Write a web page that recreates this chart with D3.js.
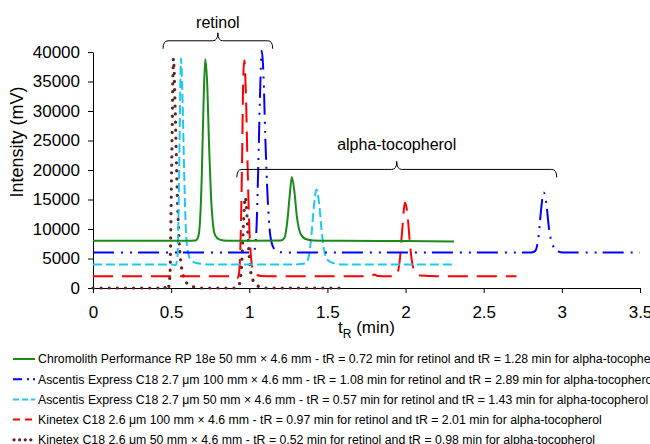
<!doctype html>
<html>
<head>
<meta charset="utf-8">
<style>
    body { margin: 0; background: #fff; }
    svg text { font-family: "Liberation Sans", Arial, sans-serif; fill: #000; }
    .axis path, .axis line { stroke: #000; stroke-width: 1; }
    .axis text { font-size: 17px; }
</style>
<script src="https://d3js.org/d3.v7.min.js"></script>
</head>
<body>
<svg width="650" height="444"></svg>
<script>
// column names for the legend
var columns = [
    "Chromolith Performance RP 18e 50 mm \u00d7 4.6 mm - tR = 0.72 min for retinol and tR = 1.28 min for alpha-tocopherol",
    "Ascentis Express C18 2.7 \u03bcm 100 mm \u00d7 4.6 mm - tR = 1.08 min for retinol and tR = 2.89 min for alpha-tocopherol",
    "Ascentis Express C18 2.7 \u03bcm 50 mm \u00d7 4.6 mm - tR = 0.57 min for retinol and tR = 1.43 min for alpha-tocopherol",
    "Kinetex C18 2.6 \u03bcm 100 mm \u00d7 4.6 mm - tR = 0.97 min for retinol and tR = 2.01 min for alpha-tocopherol",
    "Kinetex C18 2.6 \u03bcm 50 mm \u00d7 4.6 mm - tR = 0.52 min for retinol and tR = 0.98 min for alpha-tocopherol"
];

// chromatograms: [time (min), intensity (mV)]
var chromolith = [[0,8000],[0.3,8000],[0.6,8000],[0.655,8050],[0.672,8600],[0.684,11000],[0.696,19000],[0.707,31000],[0.718,38800],
    [0.73,35000],[0.743,24000],[0.755,15500],[0.767,11000],[0.782,8900],[0.81,8200],[0.86,8000],[1.0,8000],[1.2,8050],[1.225,8500],
    [1.242,11000],[1.258,15500],[1.272,18800],[1.288,16500],[1.305,12000],[1.328,9200],[1.36,8300],[1.41,8050],[1.6,8000],[2.0,7950],[2.31,7900]];
var ascentis100 = [[0,6000],[0.5,6000],[1.0,6000],[1.03,6200],[1.044,9000],[1.057,20000],[1.068,32000],[1.08,40200],[1.091,36000],
    [1.102,26000],[1.118,15000],[1.134,9000],[1.155,6800],[1.185,6100],[1.25,6000],[2.0,6000],[2.8,6000],[2.83,6300],[2.852,9000],
    [2.868,13500],[2.883,16200],[2.9,14500],[2.918,10000],[2.943,7200],[2.975,6200],[3.01,6000],[3.5,6000]];
var ascentis50 = [[0,4000],[0.5,4000],[0.528,3900],[0.54,5000],[0.547,12000],[0.554,25000],[0.563,38900],[0.572,33000],[0.583,20000],
    [0.594,10000],[0.605,6500],[0.625,4800],[0.665,4200],[0.75,4000],[1.3,4000],[1.36,4150],[1.382,5500],[1.398,9000],[1.414,14000],
    [1.43,16700],[1.446,14500],[1.462,10000],[1.478,6500],[1.503,4700],[1.545,4150],[1.6,4000],[2.3,4000]];
var kinetex100 = [[0,2000],[0.5,2000],[0.9,2000],[0.922,1600],[0.932,2100],[0.942,6000],[0.953,20000],[0.961,35000],[0.968,38600],
    [0.977,34000],[0.988,22000],[0.999,11000],[1.01,5500],[1.025,3000],[1.045,2300],[1.075,2050],[1.15,2000],[1.78,2000],[1.8,2300],
    [1.82,2050],[1.9,2000],[1.94,2100],[1.962,4500],[1.979,10000],[1.996,14500],[2.012,12500],[2.028,7500],[2.044,4000],[2.065,2600],
    [2.1,2100],[2.2,2000],[2.71,2000]];
var kinetex50 = [[0,0],[0.42,0],[0.45,300],[0.478,-400],[0.492,2000],[0.503,20000],[0.515,38900],[0.526,30000],[0.538,17000],
    [0.553,7000],[0.574,2500],[0.605,700],[0.65,150],[0.7,0],[0.9,0],[0.932,300],[0.951,4000],[0.963,11000],[0.974,15400],[0.986,12000],
    [0.998,6000],[1.013,2200],[1.033,900],[1.065,200],[1.1,0],[1.62,0]];

var seriesData = [chromolith, ascentis100, ascentis50, kinetex100, kinetex50];

var xTicks = [0, 0.5, 1, 1.5, 2, 2.5, 3, 3.5];
var yTicks = [0, 5000, 10000, 15000, 20000, 25000, 30000, 35000, 40000];

// braces over the peaks: label, time span, level (mV)
var braces = [
    { label: "retinol", t0: 0.448, t1: 1.15, v: 41900 },
    { label: "alpha-tocopherol", t0: 0.92, t1: 2.967, v: 20100 }
];

var styles = [
    { color: "#1b8a1b", dash: null, legendDash: null, width: 2, cap: "butt" },
    { color: "#0000ff", dash: "21,7,2,7,2,6", legendDash: "9,5,2,4,2,8", width: 2, cap: "butt" },
    { color: "#1ec8f5", dash: "9,4", legendDash: "6,3", width: 2, cap: "butt" },
    { color: "#ff0000", dash: "20,9", legendDash: "7,5", width: 2, cap: "butt" },
    { color: "#632523", dash: "0.1,8", legendDash: "0.1,5.5", width: 3.2, cap: "round" }
];

var svg = d3.select("svg");
var plotL = 93, plotR = 640, plotT = 52, plotB = 288;

var x = d3.scaleLinear().domain([0, 3.5]).range([plotL, plotR]);
var y = d3.scaleLinear().domain([0, 40000]).range([plotB, plotT]);

svg.append("g")
    .attr("class", "axis")
    .attr("transform", "translate(0," + plotB + ")")
    .call(d3.axisBottom(x).tickValues(xTicks).tickSize(5).tickSizeOuter(0).tickPadding(13)
        .tickFormat(function(d) { return d; }));

svg.append("g")
    .attr("class", "axis")
    .attr("transform", "translate(" + plotL + ",0)")
    .call(d3.axisLeft(y).tickValues(yTicks).tickSize(5).tickSizeOuter(0).tickPadding(8)
        .tickFormat(function(d) { return d; }));

var line = d3.line()
    .x(function(d) { return x(d[0]); })
    .y(function(d) { return y(d[1]); })
    .curve(d3.curveMonotoneX);

// draw last series first so green sits on top like the original
svg.append("g").selectAll("path")
    .data(seriesData.map(function(d, i) { return { pts: d, i: i }; }).reverse())
    .enter().append("path")
    .attr("d", function(d) { return line(d.pts); })
    .attr("fill", "none")
    .attr("stroke", function(d) { return styles[d.i].color; })
    .attr("stroke-width", function(d) { return styles[d.i].width; })
    .attr("stroke-dasharray", function(d) { return styles[d.i].dash; })
    .attr("stroke-linecap", function(d) { return styles[d.i].cap; })
    .attr("stroke-linejoin", "round");

// braces
var braceG = svg.append("g");
braces.forEach(function(b, i) {
    var x1 = x(b.t0), x2 = x(b.t1), yy = y(b.v), xm = (x1 + x2) / 2;
    var h = 8, n = 8, r = 5;
    var p = "M" + x1 + "," + (yy + h) +
        "Q" + x1 + "," + yy + " " + (x1 + r) + "," + yy +
        "L" + (xm - r) + "," + yy +
        "Q" + xm + "," + yy + " " + xm + "," + (yy - n) +
        "Q" + xm + "," + yy + " " + (xm + r) + "," + yy +
        "L" + (x2 - r) + "," + yy +
        "Q" + x2 + "," + yy + " " + x2 + "," + (yy + h);
    braceG.append("path").attr("d", p).attr("fill", "none").attr("stroke", "#000").attr("stroke-width", 1);
    braceG.append("text")
        .attr("x", xm).attr("y", yy - (i === 0 ? 13 : 19))
        .attr("text-anchor", "middle")
        .style("font-size", "16px")
        .text(b.label);
});

// axis titles
svg.append("text")
    .attr("transform", "translate(23,142) rotate(-90)")
    .attr("text-anchor", "middle")
    .style("font-size", "18px")
    .text("Intensity (mV)");

var xt = svg.append("text")
    .attr("x", (plotL + plotR) / 2)
    .attr("y", 333)
    .attr("text-anchor", "middle")
    .style("font-size", "17px");
xt.append("tspan").text("t");
xt.append("tspan").attr("dy", 5).style("font-size", "12px").text("R");
xt.append("tspan").attr("dy", -5).text(" (min)");

// legend
var leg = svg.append("g").selectAll("g")
    .data(columns)
    .enter().append("g")
    .attr("transform", function(d, i) { return "translate(0," + (359 + i * 20.2) + ")"; });

leg.append("line")
    .attr("x1", function(d, i) { return i === 4 ? 14 : 13; })
    .attr("x2", 35)
    .attr("stroke", function(d, i) { return styles[i].color; })
    .attr("stroke-width", function(d, i) { return styles[i].width; })
    .attr("stroke-dasharray", function(d, i) { return styles[i].legendDash; })
    .attr("stroke-linecap", function(d, i) { return styles[i].cap; });

leg.append("text")
    .attr("x", 38)
    .attr("dy", "0.35em")
    .style("font-size", "12.3px")
    .text(function(d) { return d; });
</script>
</body>
</html>
